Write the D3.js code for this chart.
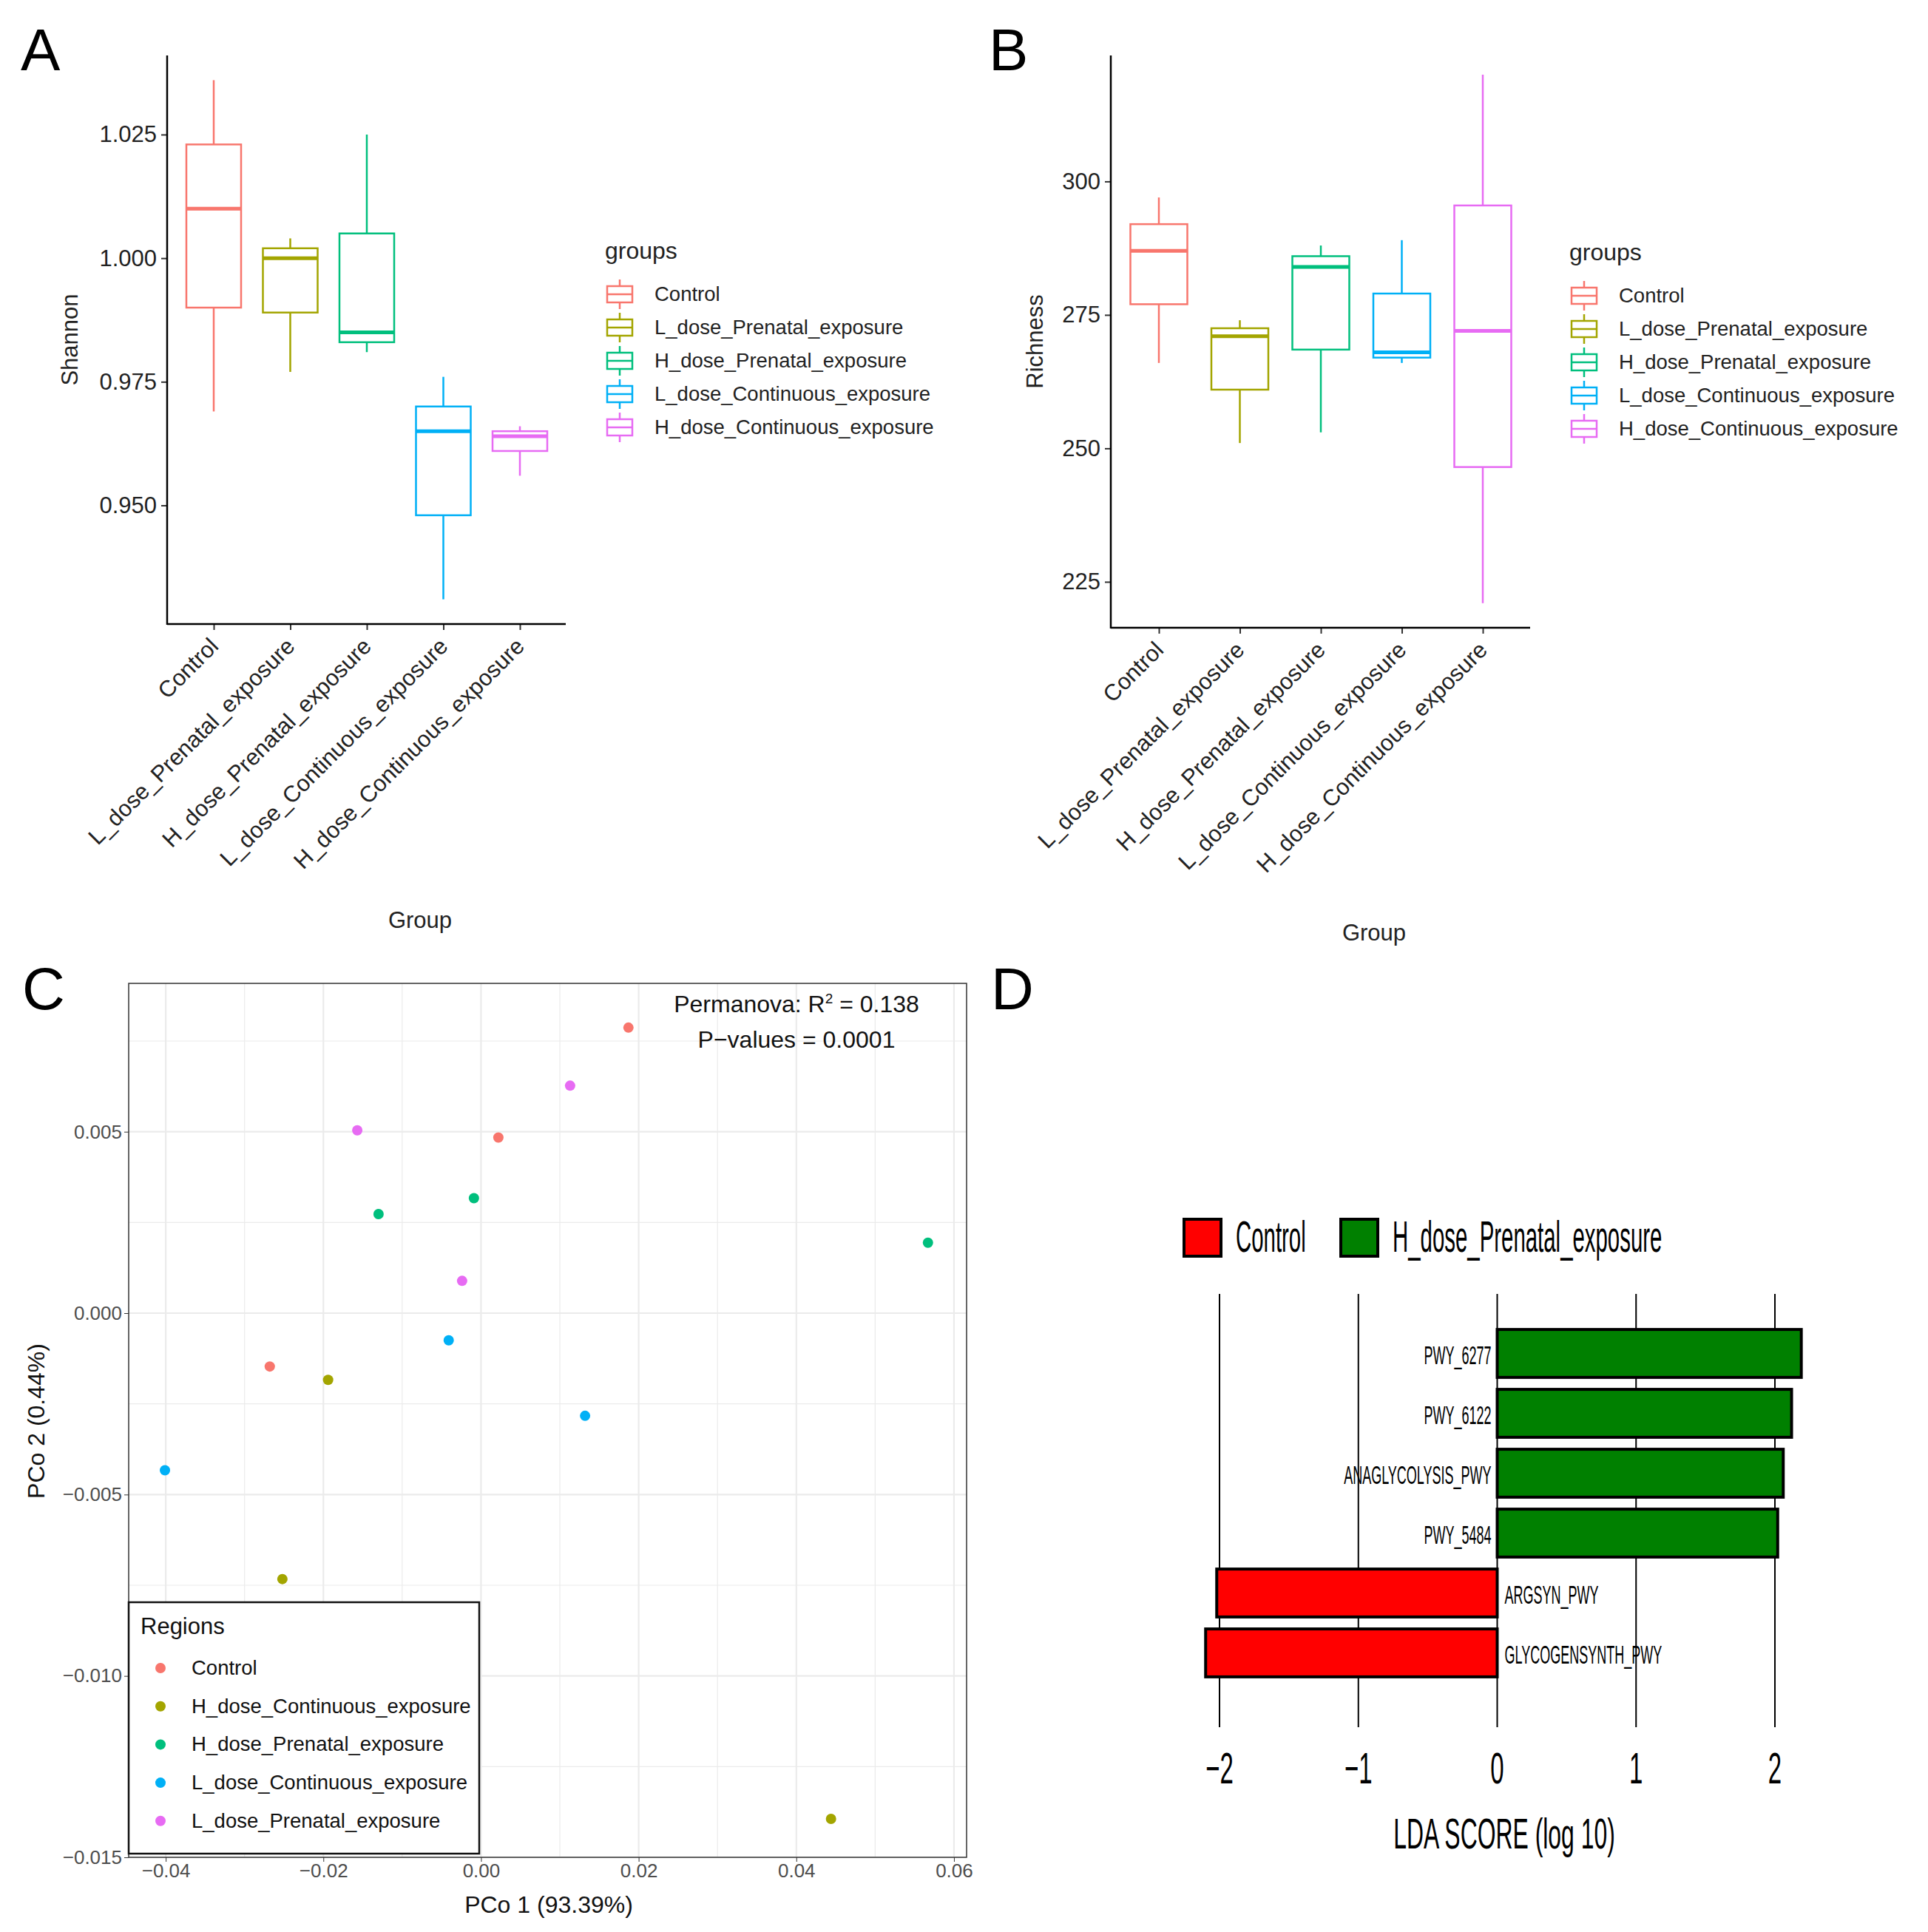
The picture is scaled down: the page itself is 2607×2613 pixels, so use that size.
<!DOCTYPE html>
<html><head><meta charset="utf-8">
<script src="https://cdn.jsdelivr.net/npm/d3@7"></script>
<style>body{margin:0;background:#fff}text{font-family:"Liberation Sans",Arial,sans-serif}</style>
</head><body>
<svg id="c" width="2607" height="2613"></svg>
<script>
const groups = ["Control","L_dose_Prenatal_exposure","H_dose_Prenatal_exposure","L_dose_Continuous_exposure","H_dose_Continuous_exposure"];
const groupColors = ["#F8766D","#A3A500","#00BF7D","#00B0F6","#E76BF3"];
// [min, q1, median, q3, max]
const shannon = [[0.969,0.990,1.010,1.023,1.036],[0.977,0.989,1.000,1.002,1.004],[0.981,0.983,0.985,1.005,1.025],[0.931,0.948,0.965,0.970,0.976],[0.956,0.961,0.964,0.965,0.966]];
const richness = [[266,277,287,292,297],[251,261,271,272.5,274],[253,268.5,284,286,288],[266,267,268,279,289],[221,246.5,272,295.5,320]];
const shannonTicks = [0.950,0.975,1.000,1.025];
const richnessTicks = [225,250,275,300];
const regions = ["Control","H_dose_Continuous_exposure","H_dose_Prenatal_exposure","L_dose_Continuous_exposure","L_dose_Prenatal_exposure"];
const regionColors = ["#F8766D","#A3A500","#00BF7D","#00B0F6","#E76BF3"];
const pcoX = [[0.0187,0.0022,-0.0268],[-0.0194,-0.0252,0.0444],[-0.0130,-0.0009,0.0567],[-0.0041,0.0132,-0.0401],[-0.0157,0.0113,-0.0024]];
const pcoY = [[0.00787,0.00484,-0.00147],[-0.00184,-0.00733,-0.01394],[0.00273,0.00317,0.00194],[-0.00075,-0.00283,-0.00433],[0.00504,0.00627,0.00089]];
const pcoXTicks = [-0.04,-0.02,0.00,0.02,0.04,0.06];
const pcoYTicks = [-0.015,-0.010,-0.005,0.000,0.005];
const pathways = ["PWY_6277","PWY_6122","ANAGLYCOLYSIS_PWY","PWY_5484","ARGSYN_PWY","GLYCOGENSYNTH_PWY"];
const ldaScores = [2.19,2.12,2.06,2.02,-2.02,-2.10];
const ldaTicks = [-2,-1,0,1,2];

const svg = d3.select("#c");
const fmt3 = d3.format(".3f");
function minus(s){return String(s).replace("-","\u2212");}

function letter(t,x,y){svg.append("text").attr("x",x).attr("y",y).attr("font-size",80).text(t);}

function boxPanel(o){
  const g = svg.append("g");
  const xs = d3.scalePoint().domain(groups).range([o.c0,o.c1]);
  const y = d3.scaleLinear().domain(o.dom).range([o.y1,o.y0]);
  const ya = g.append("g").attr("transform",`translate(${o.x0},0)`).call(d3.axisLeft(y).tickValues(o.ticks).tickFormat(o.fmt).tickSize(8).tickPadding(6));
  ya.select(".domain").remove();
  g.append("line").attr("x1",o.x0).attr("x2",o.x0).attr("y1",o.y0).attr("y2",o.y1+1).attr("stroke","#000").attr("stroke-width",2.5);
  const xa = g.append("g").attr("transform",`translate(0,${o.y1})`).call(d3.axisBottom(xs).tickSize(8).tickFormat(""));
  xa.select(".domain").remove();
  g.append("line").attr("x1",o.x0).attr("x2",o.x1).attr("y1",o.y1).attr("y2",o.y1).attr("stroke","#000").attr("stroke-width",2.5);
  g.selectAll(".tick line").attr("stroke","#333").attr("stroke-width",2);
  ya.selectAll("text").attr("font-size",31).attr("fill","#222");
  groups.forEach((gr,i)=>{
    const s=o.data[i], c=groupColors[i], X=xs(gr), w=o.bw;
    g.append("line").attr("x1",X).attr("x2",X).attr("y1",y(s[0])).attr("y2",y(s[1])).attr("stroke",c).attr("stroke-width",2.5);
    g.append("line").attr("x1",X).attr("x2",X).attr("y1",y(s[3])).attr("y2",y(s[4])).attr("stroke",c).attr("stroke-width",2.5);
    g.append("rect").attr("x",X-w/2).attr("width",w).attr("y",y(s[3])).attr("height",y(s[1])-y(s[3])).attr("fill","#fff").attr("stroke",c).attr("stroke-width",2.5);
    g.append("line").attr("x1",X-w/2).attr("x2",X+w/2).attr("y1",y(s[2])).attr("y2",y(s[2])).attr("stroke",c).attr("stroke-width",5);
    g.append("text").attr("transform",`translate(${X+8},${o.y1+32}) rotate(-45)`).attr("text-anchor","end").attr("font-size",31).attr("fill","#222").text(gr);
  });
  g.append("text").attr("x",o.gx).attr("y",o.gy).attr("text-anchor","middle").attr("font-size",31).attr("fill","#222").text("Group");
  g.append("text").attr("transform",`translate(${o.ylx},${(o.y0+o.y1)/2}) rotate(-90)`).attr("text-anchor","middle").attr("font-size",31).attr("fill","#222").text(o.ylab);
  g.append("text").attr("x",o.lx).attr("y",o.ly).attr("font-size",32).attr("fill","#222").text("groups");
  groups.forEach((gr,i)=>{
    const yy=o.ly+48+i*45, c=groupColors[i];
    g.append("line").attr("x1",o.lx+20).attr("x2",o.lx+20).attr("y1",yy-20).attr("y2",yy+20).attr("stroke",c).attr("stroke-width",2.5);
    g.append("rect").attr("x",o.lx+3).attr("y",yy-11).attr("width",34).attr("height",22).attr("fill","#fff").attr("stroke",c).attr("stroke-width",2.5);
    g.append("line").attr("x1",o.lx+3).attr("x2",o.lx+37).attr("y1",yy).attr("y2",yy).attr("stroke",c).attr("stroke-width",2.5);
    g.append("text").attr("x",o.lx+67).attr("y",yy+9).attr("font-size",27.5).attr("fill","#222").text(gr);
  });
}
letter("A",28,95);
boxPanel({x0:226,x1:765,c0:289,c1:703,y0:75,y1:844,dom:[0.926,1.041],ticks:shannonTicks,fmt:fmt3,data:shannon,bw:74,gx:568,gy:1255,ylx:105,ylab:"Shannon",lx:818,ly:350});
letter("B",1337,95);
boxPanel({x0:1502,x1:2069,c0:1567,c1:2005,y0:75,y1:849,dom:[216.4,323.6],ticks:richnessTicks,fmt:d3.format("d"),data:richness,bw:77,gx:1858,gy:1272,ylx:1410,ylab:"Richness",lx:2122,ly:352});

// Panel C
letter("C",30,1365);
(function(){
  const L=174,R=1307,T=1330,B=2512;
  const g=svg.append("g");
  const x=d3.scaleLinear().domain([-0.0447,0.0616]).range([L,R]);
  const y=d3.scaleLinear().domain([-0.015,0.00909]).range([B,T]);
  const xm=d3.range(-0.05,0.07,0.01).filter(v=>v>x.domain()[0]&&v<x.domain()[1]);
  const ym=d3.range(-0.015,0.0101,0.0025).filter(v=>v<=y.domain()[1]);
  g.selectAll(".gx").data(xm).join("line").attr("x1",d=>x(d)).attr("x2",d=>x(d)).attr("y1",T).attr("y2",B).attr("stroke","#ebebeb").attr("stroke-width",d=>Math.abs(Math.round(d*100)%2)===0?2.2:1.2);
  g.selectAll(".gy").data(ym).join("line").attr("y1",d=>y(d)).attr("y2",d=>y(d)).attr("x1",L).attr("x2",R).attr("stroke","#ebebeb").attr("stroke-width",d=>Math.abs(Math.round(d*400)%2)===0?2.2:1.2);
  g.append("rect").attr("x",L).attr("y",T).attr("width",R-L).attr("height",B-T).attr("fill","none").attr("stroke","#333").attr("stroke-width",1.5);
  const xa=g.append("g").attr("transform",`translate(0,${B})`).call(d3.axisBottom(x).tickValues(pcoXTicks).tickFormat(d=>minus(d3.format(".2f")(d))).tickSize(6));
  const ya=g.append("g").attr("transform",`translate(${L},0)`).call(d3.axisLeft(y).tickValues(pcoYTicks).tickFormat(d=>minus(d3.format(".3f")(d))).tickSize(6));
  [xa,ya].forEach(a=>{a.select(".domain").remove();a.selectAll("line").attr("stroke","#333");a.selectAll("text").attr("font-size",26).attr("fill","#4d4d4d");});
  regions.forEach((r,i)=>{
    g.selectAll(null).data(pcoX[i].map((v,j)=>[v,pcoY[i][j]])).join("circle").attr("cx",d=>x(d[0])).attr("cy",d=>y(d[1])).attr("r",7).attr("fill",regionColors[i]);
  });
  g.append("text").attr("x",742).attr("y",2587).attr("text-anchor","middle").attr("font-size",32).attr("fill","#111").text("PCo 1 (93.39%)");
  g.append("text").attr("transform",`translate(60,1922) rotate(-90)`).attr("text-anchor","middle").attr("font-size",32).attr("fill","#111").text("PCo 2 (0.44%)");
  const t1=g.append("text").attr("x",1077).attr("y",1369).attr("text-anchor","middle").attr("font-size",32).attr("fill","#111");
  t1.append("tspan").text("Permanova: R");t1.append("tspan").attr("dy",-12).attr("font-size",19).text("2");t1.append("tspan").attr("dy",12).text(" = 0.138");
  g.append("text").attr("x",1077).attr("y",1417).attr("text-anchor","middle").attr("font-size",32).attr("fill","#111").text("P\u2212values = 0.0001");
  g.append("rect").attr("x",L).attr("y",2167).attr("width",474).attr("height",340).attr("fill","#fff").attr("stroke","#111").attr("stroke-width",2.5);
  g.append("text").attr("x",190).attr("y",2210).attr("font-size",31).attr("fill","#111").text("Regions");
  regions.forEach((r,i)=>{
    const yy=2256+i*51.7;
    g.append("circle").attr("cx",217).attr("cy",yy).attr("r",7).attr("fill",regionColors[i]);
    g.append("text").attr("x",259).attr("y",yy+9).attr("font-size",27.5).attr("fill","#111").text(r);
  });
})();

// Panel D
letter("D",1340,1365);
(function(){
  const g=svg.append("g");
  function narrow(x0,y0,txt,size,anchor,sx){
    return g.append("text").attr("transform",`translate(${x0},${y0}) scale(${sx},1)`).attr("text-anchor",anchor).attr("font-family","DejaVu Sans").attr("font-size",size).text(txt);
  }
  const x=d3.scaleLinear().domain([-2,2]).range([1649,2400]);
  const y=d3.scaleBand().domain(pathways).range([1790,2276]).paddingInner(0.2).paddingOuter(0.1);
  g.selectAll(".gl").data(ldaTicks).join("line").attr("x1",d=>x(d)).attr("x2",d=>x(d)).attr("y1",1750).attr("y2",2336).attr("stroke","#000").attr("stroke-width",2);
  pathways.forEach((p,i)=>{
    const v=ldaScores[i];
    g.append("rect").attr("x",x(Math.min(0,v))).attr("width",Math.abs(x(v)-x(0))).attr("y",y(p)).attr("height",y.bandwidth()).attr("fill",v>0?"#008000":"#ff0000").attr("stroke","#000").attr("stroke-width",4);
    narrow(v>0?x(0)-8:x(0)+10, y(p)+y.bandwidth()/2+14, p, 36, v>0?"end":"start", 0.5);
  });
  ldaTicks.forEach(d=>narrow(x(d),2412,minus(d),60,"middle",0.55));
  narrow(2034,2500,"LDA SCORE (log 10)",58,"middle",0.55);
  const leg=[["Control","#ff0000",1601],["H_dose_Prenatal_exposure","#008000",1813]];
  leg.forEach(l=>{
    g.append("rect").attr("x",l[2]).attr("y",1649).attr("width",50).attr("height",50).attr("fill",l[1]).attr("stroke","#000").attr("stroke-width",4);
    narrow(l[2]+70,1693,l[0],60,"start",0.49);
  });
})();
</script></body></html>
